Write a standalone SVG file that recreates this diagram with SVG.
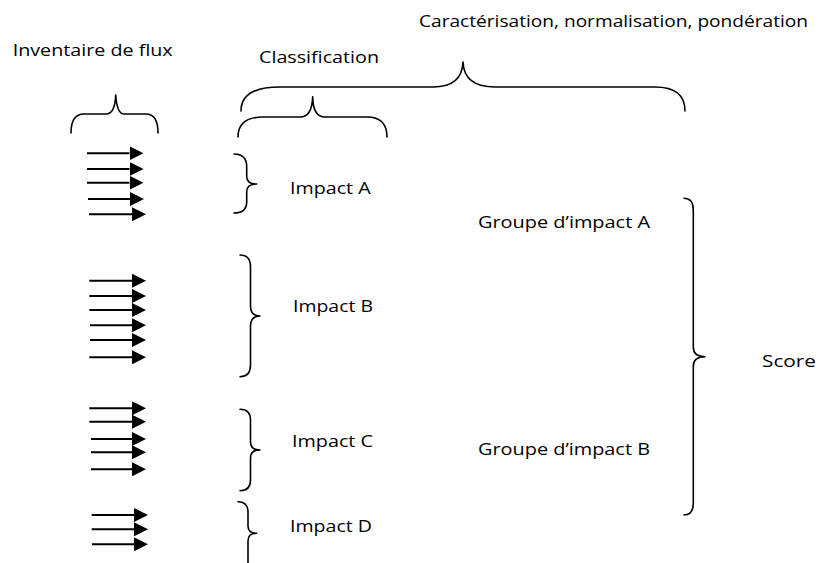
<svg xmlns="http://www.w3.org/2000/svg" width="820" height="563" viewBox="0 0 820 563">
<style>
text{font-family:"Open Sans","Liberation Sans",sans-serif;font-size:16.5px;fill:#000}
.br{fill:none;stroke:#000;stroke-width:1.6;stroke-linecap:round;stroke-linejoin:round}
.ar{fill:none;stroke:#000;stroke-width:2}
</style>
<defs>
<marker id="head" viewBox="0 0 14 14" refX="0" refY="7" markerWidth="14" markerHeight="14" markerUnits="userSpaceOnUse" orient="auto">
<path d="M0,0 L14,7 L0,14 Z" fill="#000"/>
</marker>
</defs>
<rect width="820" height="563" fill="#fff"/>

<g id="labels">
<text id="t-inventaire" x="12.7" y="55.7" textLength="160" lengthAdjust="spacingAndGlyphs">Inventaire de flux</text>
<text id="t-classification" x="259" y="63.3" textLength="120" lengthAdjust="spacingAndGlyphs">Classification</text>
<text id="t-caract" x="419" y="26.7" textLength="389" lengthAdjust="spacingAndGlyphs">Caractérisation, normalisation, pondération</text>
</g>

<g id="node-impact-a"><text x="290" y="194" textLength="80.7" lengthAdjust="spacingAndGlyphs">Impact A</text></g>
<g id="node-impact-b"><text x="293" y="311.7" textLength="80" lengthAdjust="spacingAndGlyphs">Impact B</text></g>
<g id="node-impact-c"><text x="292" y="447" textLength="81" lengthAdjust="spacingAndGlyphs">Impact C</text></g>
<g id="node-impact-d"><text x="290" y="531.7" textLength="82" lengthAdjust="spacingAndGlyphs">Impact D</text></g>
<g id="node-groupe-a"><text x="478" y="228.3" textLength="172" lengthAdjust="spacingAndGlyphs">Groupe d’impact A</text></g>
<g id="node-groupe-b"><text x="478" y="455" textLength="172" lengthAdjust="spacingAndGlyphs">Groupe d’impact B</text></g>
<g id="node-score"><text x="762" y="366.7" textLength="54" lengthAdjust="spacingAndGlyphs">Score</text></g>

<g id="braces">
<path class="br" d="M71,133 Q71,114 84,114 L106,114 Q115,114 115.7,95 Q117,114 124,114 L146,114 Q158,114 158,133"/>
<path class="br" d="M241,111 Q241,87 280,87 L433,87 Q462,87 463,62 Q464,87 495,87 L655,87 Q685,87 685,111"/>
<path class="br" d="M238,137 Q238,117 263,117 L300,117 Q312,117 312.7,96.7 Q313,117 325,117 L367,117 Q387,117 387,137"/>
<path class="br" d="M234,154 Q246.7,154 246.7,166.7 L246.7,176.7 Q246.7,184 256.7,184 Q246.7,184 246.7,191.7 L246.7,201.7 Q246.7,213 234,213"/>
<path class="br" d="M240,255 Q250.5,255 250.5,266.7 L250.5,306 Q250.5,316 260,316 Q250.5,316 250.5,326 L250.5,365 Q250.5,376.7 240,376.7"/>
<path class="br" d="M240,409.3 Q250.5,409.3 250.5,420 L250.5,442 Q250.5,450 260,450 Q250.5,450 250.5,458 L250.5,480 Q250.5,490.7 240,490.7"/>
<path class="br" d="M238,501.7 Q248,501.7 248,512 L248,526 Q248,533.3 256.7,533.3 Q248,533.3 248,541 L248,580"/>
<path class="br" d="M684,198.3 Q693.3,198.3 693.3,210 L693.3,347 Q693.3,356.7 705,356.7 Q693.3,356.7 693.3,366 L693.3,503 Q693.3,515 684,515"/>
</g>

<g id="connectors">
<path class="ar" marker-end="url(#head)" d="M87,153.3 H129.5"/>
<path class="ar" marker-end="url(#head)" d="M87,169 H129.5"/>
<path class="ar" marker-end="url(#head)" d="M87,182.7 H129.5"/>
<path class="ar" marker-end="url(#head)" d="M88,199 H130"/>
<path class="ar" marker-end="url(#head)" d="M89,214.3 H132"/>

<path class="ar" marker-end="url(#head)" d="M89.3,280.7 H132"/>
<path class="ar" marker-end="url(#head)" d="M89.3,296 H132"/>
<path class="ar" marker-end="url(#head)" d="M89.3,310 H132"/>
<path class="ar" marker-end="url(#head)" d="M90,325.3 H132"/>
<path class="ar" marker-end="url(#head)" d="M90,340 H132"/>
<path class="ar" marker-end="url(#head)" d="M89.3,357.3 H132"/>

<path class="ar" marker-end="url(#head)" d="M89.3,408.3 H132"/>
<path class="ar" marker-end="url(#head)" d="M89.3,421.7 H132"/>
<path class="ar" marker-end="url(#head)" d="M91,439 H132"/>
<path class="ar" marker-end="url(#head)" d="M91,452.3 H132"/>
<path class="ar" marker-end="url(#head)" d="M91,469.3 H132"/>

<path class="ar" marker-end="url(#head)" d="M91.7,515 H134"/>
<path class="ar" marker-end="url(#head)" d="M91.7,529.3 H134"/>
<path class="ar" marker-end="url(#head)" d="M92,544.3 H134"/>
</g>
</svg>
